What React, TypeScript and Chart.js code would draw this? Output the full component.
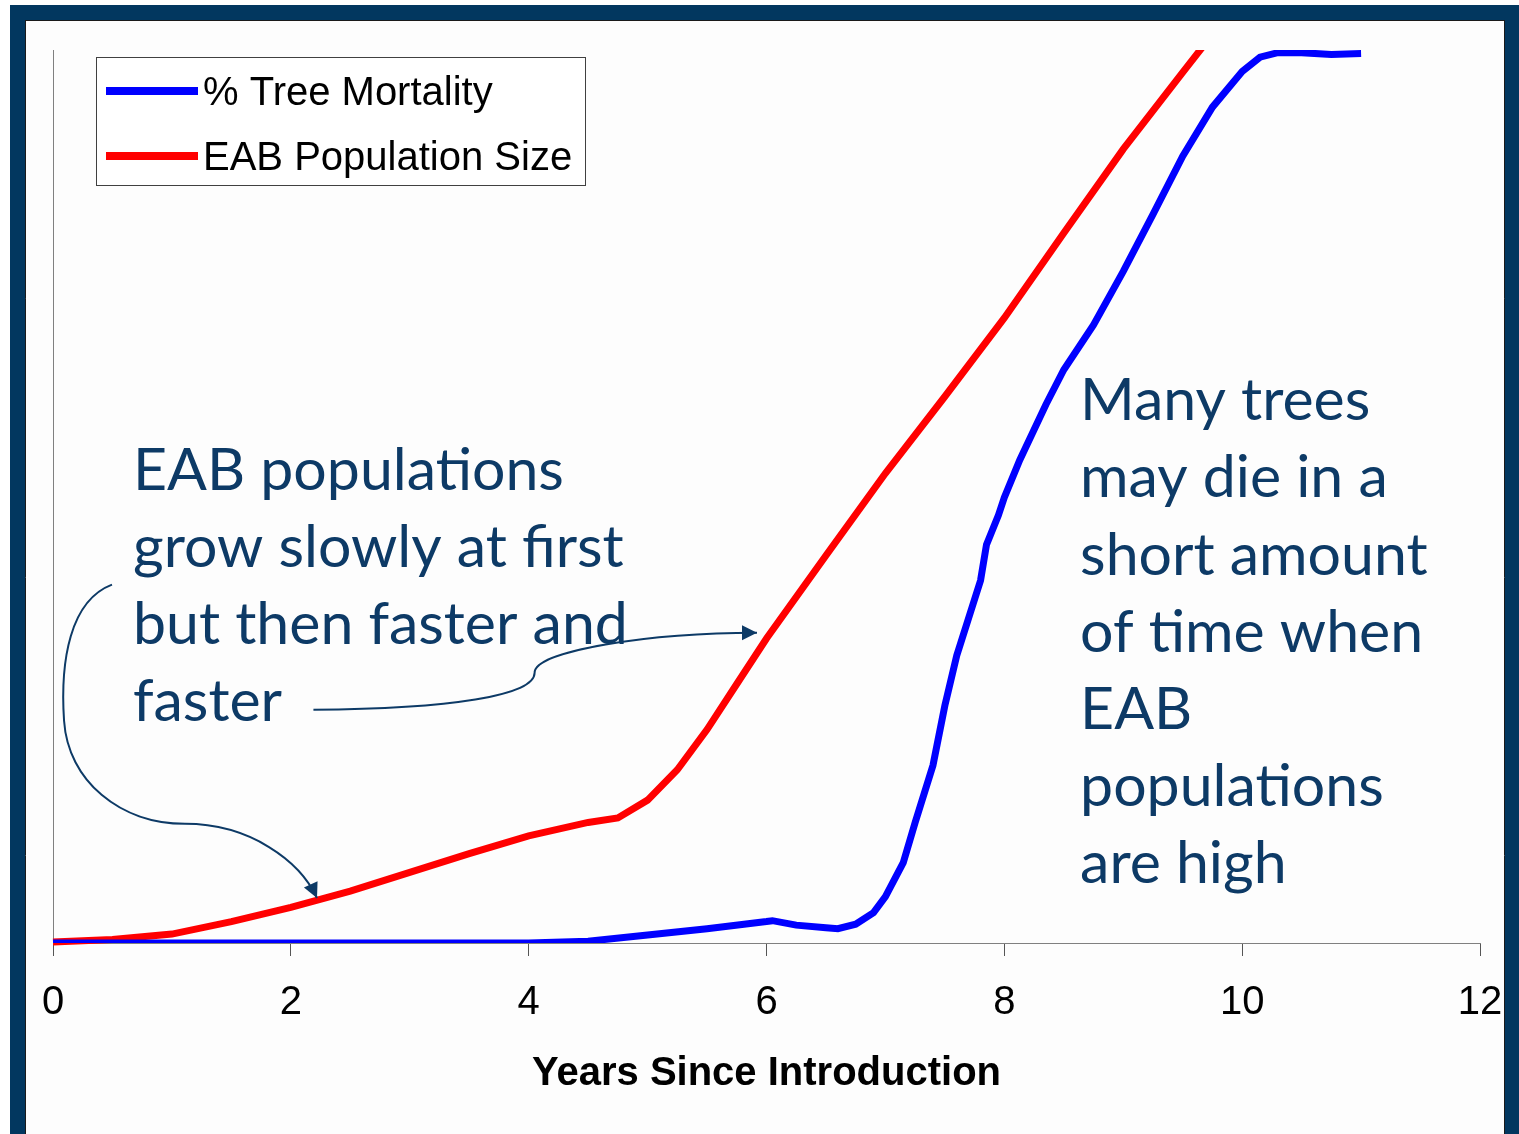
import React, { useEffect, useRef } from "react";
import { Chart, registerables } from "chart.js";

Chart.register(...registerables);

// ---------- data ----------
const mortalityYears = [0, 1, 2, 3, 4, 4.5, 5, 5.5, 6, 6.05, 6.25, 6.5, 6.6, 6.75, 6.9, 7.0, 7.15, 7.25, 7.4, 7.5, 7.6, 7.8, 7.85, 7.95, 8.0, 8.13, 8.35, 8.5, 8.75, 9.0, 9.25, 9.5, 9.75, 10.0, 10.15, 10.3, 10.5, 10.75, 11.0];
const mortalityValues = [0, 0, 0, 0, 0, 0.2, 0.9, 1.6, 2.4, 2.5, 2.0, 1.7, 1.6, 2.1, 3.4, 5.2, 9.0, 13.5, 19.9, 26.6, 32.2, 40.6, 44.6, 47.9, 49.9, 54.1, 60.3, 64.2, 69.2, 75.2, 81.6, 88.1, 93.6, 97.6, 99.2, 99.7, 99.7, 99.5, 99.6];

const populationYears = [0, 0.5, 1, 1.5, 2, 2.5, 3, 3.5, 4, 4.5, 4.75, 5, 5.25, 5.5, 5.75, 6, 6.5, 7, 7.5, 8, 8.5, 9, 9.5, 10];
const populationValues = [0.1, 0.4, 1.0, 2.4, 4.0, 5.8, 7.9, 10.0, 12.0, 13.5, 14.0, 16.0, 19.4, 23.9, 29.0, 34.1, 43.4, 52.6, 61.2, 70.0, 79.5, 88.9, 97.5, 106.0];

const seriesLabels = ["% Tree Mortality", "EAB Population Size"];
const xTickValues = [0, 2, 4, 6, 8, 10, 12];
const xAxisTitle = "Years Since Introduction";

const leftNoteLines = ["EAB populations", "grow slowly at first", "but then faster and", "faster"];
const rightNoteLines = ["Many trees", "may die in a", "short amount", "of time when", "EAB", "populations", "are high"];

// annotation anchors, in data units (years, value)
const leftNoteAnchor = [0.673, 50.78];
const rightNoteAnchor = [8.637, 58.52];
const noteLineStep = 8.63;
const arrowToSteepPart = {
  start: [2.19, 26.12],
  segs: [
    [[3.34, 26.23], [4.05, 27.69], [4.05, 30.27]],
    [[4.05, 32.74], [5.02, 34.75], [5.92, 34.75]],
  ],
};
const arrowToSlowPart = {
  start: [0.496, 40.13],
  segs: [
    [[0.143, 38.34], [0.059, 31.61], [0.093, 24.89]],
    [[0.126, 18.16], [0.563, 13.34], [1.11, 13.34]],
    [[1.657, 13.34], [2.077, 9.19], [2.22, 5.04]],
  ],
};

// ---------- styles ----------
const W = 1519;
const H = 1134;
const FRAME = "#02375f";
const NOTE_COLOR = "#0d3a66";
const NOTE_FONT = '59px Lato, "Open Sans", sans-serif';
const AXIS_FONT = '"Liberation Sans", Arial, sans-serif';
const BLUE = "#0000ff";
const RED = "#ff0000";

function drawArrow(ctx: CanvasRenderingContext2D, P: (p: number[]) => number[], a: any) {
  const s = P(a.start);
  ctx.beginPath();
  ctx.moveTo(s[0], s[1]);
  let lastC = s;
  let end = s;
  a.segs.forEach((seg: number[][]) => {
    const c1 = P(seg[0]);
    const c2 = P(seg[1]);
    const e = P(seg[2]);
    ctx.bezierCurveTo(c1[0], c1[1], c2[0], c2[1], e[0], e[1]);
    lastC = c2;
    end = e;
  });
  ctx.stroke();
  const ang = Math.atan2(end[1] - lastC[1], end[0] - lastC[0]);
  const len = 15;
  const hw = 7.5;
  ctx.beginPath();
  ctx.moveTo(end[0], end[1]);
  ctx.lineTo(end[0] - len * Math.cos(ang) + hw * Math.sin(ang), end[1] - len * Math.sin(ang) - hw * Math.cos(ang));
  ctx.lineTo(end[0] - len * Math.cos(ang) - hw * Math.sin(ang), end[1] - len * Math.sin(ang) + hw * Math.cos(ang));
  ctx.closePath();
  ctx.fill();
}

const decorPlugin = {
  id: "decor",
  beforeDraw(chart: any) {
    const { ctx, width, height } = chart;
    ctx.save();
    ctx.fillStyle = "#ffffff";
    ctx.fillRect(0, 0, width, height);
    ctx.fillStyle = FRAME;
    ctx.fillRect(10, 5, width - 10, 15);
    ctx.fillRect(10, 5, 15, height - 5);
    ctx.fillRect(1505, 5, width - 1505, height - 5);
    ctx.fillStyle = "#fdfdfd";
    ctx.fillRect(26, 21, 1478, height - 21);
    ctx.strokeStyle = "#1a1a1a";
    ctx.lineWidth = 1;
    ctx.beginPath();
    ctx.moveTo(25.5, 20.5);
    ctx.lineTo(25.5, height);
    ctx.moveTo(25, 20.5);
    ctx.lineTo(1505, 20.5);
    ctx.moveTo(1504.5, 20.5);
    ctx.lineTo(1504.5, height);
    ctx.stroke();
    ctx.restore();
  },
  afterDraw(chart: any) {
    const { ctx, chartArea } = chart;
    const xs = chart.scales.x;
    const ys = chart.scales.y;
    const P = (p: number[]) => [xs.getPixelForValue(p[0]), ys.getPixelForValue(p[1])];
    ctx.save();

    // legend box
    const bx = chartArea.left + 43;
    const by = chartArea.top + 7;
    const bw = 489;
    const bh = 128;
    ctx.fillStyle = "#ffffff";
    ctx.fillRect(bx, by, bw, bh);
    ctx.strokeStyle = "#404040";
    ctx.lineWidth = 1;
    ctx.strokeRect(bx + 0.5, by + 0.5, bw, bh);
    chart.data.datasets.forEach((ds: any, i: number) => {
      const cy = by + 34 + i * 65;
      ctx.strokeStyle = ds.borderColor;
      ctx.lineWidth = 8;
      ctx.lineCap = "butt";
      ctx.beginPath();
      ctx.moveTo(bx + 10, cy);
      ctx.lineTo(bx + 102, cy);
      ctx.stroke();
      ctx.fillStyle = "#000000";
      ctx.font = `40px ${AXIS_FONT}`;
      ctx.textBaseline = "alphabetic";
      ctx.textAlign = "left";
      ctx.fillText(ds.label, bx + 107, cy + 14);
    });

    // notes
    ctx.fillStyle = NOTE_COLOR;
    ctx.font = NOTE_FONT;
    ctx.textAlign = "left";
    ctx.textBaseline = "alphabetic";
    leftNoteLines.forEach((t, i) => {
      const p = P([leftNoteAnchor[0], leftNoteAnchor[1] - i * noteLineStep]);
      ctx.fillText(t, p[0], p[1]);
    });
    rightNoteLines.forEach((t, i) => {
      const p = P([rightNoteAnchor[0], rightNoteAnchor[1] - i * noteLineStep]);
      ctx.fillText(t, p[0], p[1]);
    });

    // arrows
    ctx.strokeStyle = NOTE_COLOR;
    ctx.fillStyle = NOTE_COLOR;
    ctx.lineWidth = 2;
    drawArrow(ctx, P, arrowToSteepPart);
    drawArrow(ctx, P, arrowToSlowPart);
    ctx.restore();
  },
};

export default function App() {
  const ref = useRef<HTMLCanvasElement | null>(null);
  useEffect(() => {
    if (!ref.current) return;
    const chart = new Chart(ref.current, {
      type: "line",
      data: {
        datasets: [
          {
            label: seriesLabels[0],
            data: mortalityYears.map((x, i) => ({ x, y: mortalityValues[i] })),
            borderColor: BLUE,
            backgroundColor: BLUE,
            borderWidth: 7,
            pointRadius: 0,
            tension: 0,
            fill: false,
          },
          {
            label: seriesLabels[1],
            data: populationYears.map((x, i) => ({ x, y: populationValues[i] })),
            borderColor: RED,
            backgroundColor: RED,
            borderWidth: 7,
            pointRadius: 0,
            tension: 0,
            fill: false,
            clip: { left: 4, right: 4, top: 0, bottom: 4 },
          },
        ],
      },
      options: {
        responsive: false,
        animation: false,
        devicePixelRatio: 1,
        layout: { padding: { left: 53, right: 39, top: 50, bottom: 36 } },
        plugins: { legend: { display: false }, tooltip: { enabled: false } },
        scales: {
          x: {
            type: "linear",
            min: 0,
            max: 12,
            afterBuildTicks: (scale: any) => {
              scale.ticks = xTickValues.map((v) => ({ value: v }));
            },
            afterFit: (scale: any) => {
              scale.paddingRight = 0;
              scale.paddingLeft = 0;
            },
            ticks: {
              font: { family: AXIS_FONT, size: 40 },
              color: "#000000",
              padding: 23,
              maxRotation: 0,
              autoSkip: false,
            },
            grid: { display: true, drawOnChartArea: false, drawTicks: true, tickLength: 13, color: "#555555", lineWidth: 1 },
            border: { display: true, color: "#808080", width: 1 },
            title: {
              display: true,
              text: xAxisTitle,
              font: { family: AXIS_FONT, size: 40, weight: "bold" },
              color: "#000000",
              padding: { top: 0, bottom: 0 },
            },
          },
          y: {
            type: "linear",
            min: 0,
            max: 100,
            ticks: { display: false },
            grid: { display: false, drawTicks: false },
            border: { display: true, color: "#808080", width: 1 },
          },
        },
      },
      plugins: [decorPlugin],
    } as any);
    return () => chart.destroy();
  }, []);
  return (
    <div style={{ position: "absolute", left: 0, top: 0, width: W, height: H }}>
      <canvas ref={ref} width={W} height={H} style={{ width: W, height: H, display: "block" }} />
    </div>
  );
}
